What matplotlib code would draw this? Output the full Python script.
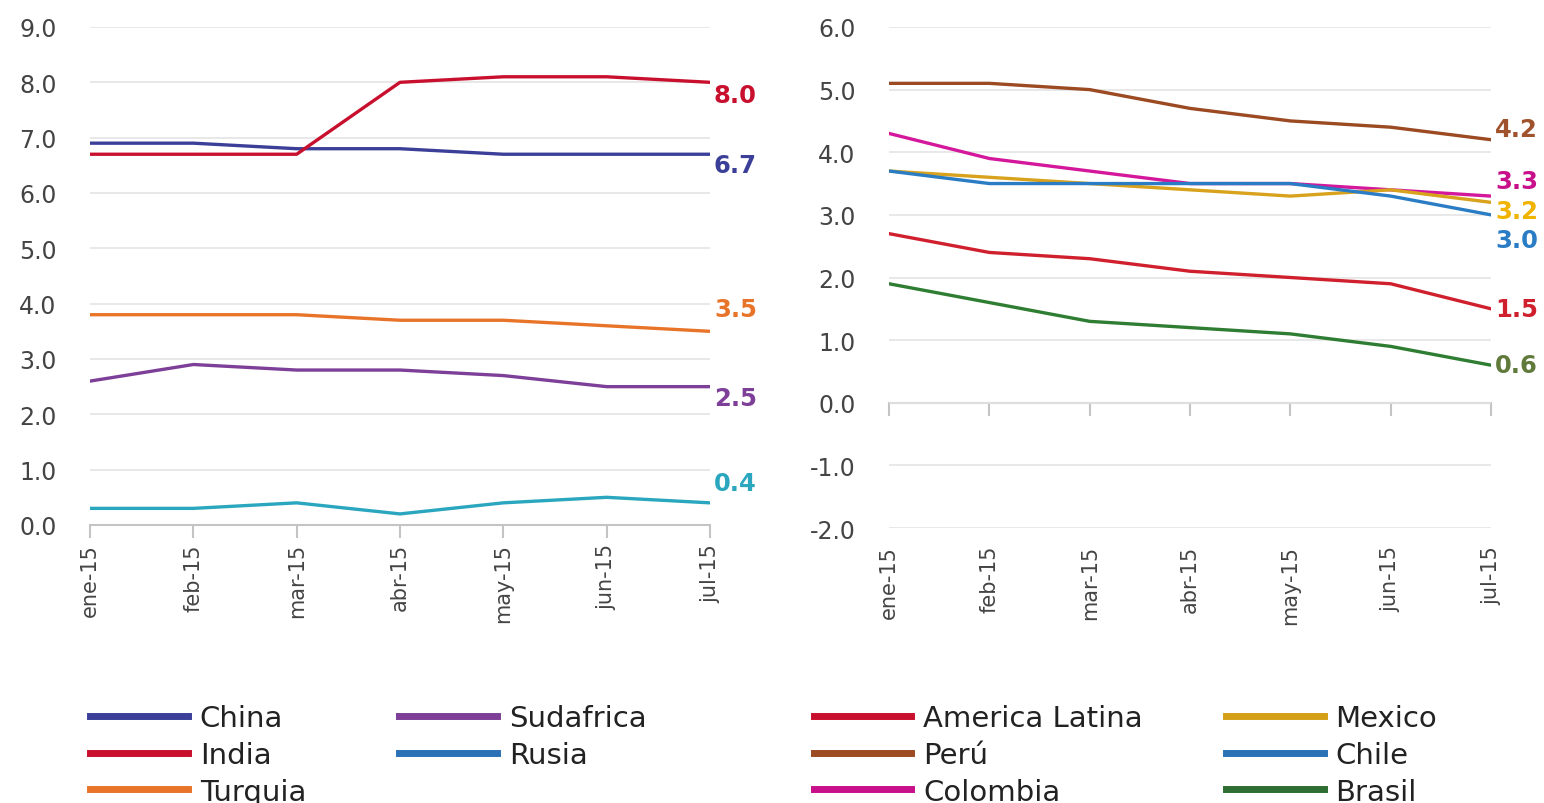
import matplotlib.pyplot as plt
from matplotlib.lines import Line2D

# ---- data ----
months = ['ene-15', 'feb-15', 'mar-15', 'abr-15', 'may-15', 'jun-15', 'jul-15']

china = [6.9, 6.9, 6.8, 6.8, 6.7, 6.7, 6.7]
india = [6.7, 6.7, 6.7, 8.0, 8.1, 8.1, 8.0]
turquia = [3.8, 3.8, 3.8, 3.7, 3.7, 3.6, 3.5]
sudafrica = [2.6, 2.9, 2.8, 2.8, 2.7, 2.5, 2.5]
rusia = [0.3, 0.3, 0.4, 0.2, 0.4, 0.5, 0.4]

america_latina = [2.7, 2.4, 2.3, 2.1, 2.0, 1.9, 1.5]
peru = [5.1, 5.1, 5.0, 4.7, 4.5, 4.4, 4.2]
colombia = [4.3, 3.9, 3.7, 3.5, 3.5, 3.4, 3.3]
mexico = [3.7, 3.6, 3.5, 3.4, 3.3, 3.4, 3.2]
chile = [3.7, 3.5, 3.5, 3.5, 3.5, 3.3, 3.0]
brasil = [1.9, 1.6, 1.3, 1.2, 1.1, 0.9, 0.6]

# (name, values, line colour, legend colour, label colour, label offset px)
left_series = [
    ('China', china, '#3b3f98', '#3b3f98', '#3b3f98', -11),
    ('India', india, '#c8102e', '#c8102e', '#c8102e', -13),
    ('Turquia', turquia, '#e8742a', '#e8742a', '#e8742a', 22),
    ('Sudafrica', sudafrica, '#7d3f98', '#7d3f98', '#7d3f98', -11),
    ('Rusia', rusia, '#2aa6bf', '#2a72b5', '#2aa6bf', 20),
]
right_series = [
    ('America Latina', america_latina, '#d0202e', '#c8102e', '#d0202e', 0),
    ('Perú', peru, '#9b4a22', '#9b4a22', '#a0522d', 11),
    ('Colombia', colombia, '#d4189c', '#c8108a', '#c8108a', 15),
    ('Mexico', mexico, '#d8a21c', '#d4a017', '#f0b400', -9),
    ('Chile', chile, '#2a7cc4', '#2a72b5', '#2a7cc4', -25),
    ('Brasil', brasil, '#2e7d32', '#2e6e32', '#5f7a3a', 0),
]

fig = plt.figure(figsize=(15.44, 8.04), dpi=100)
ax1 = fig.add_axes([0.0583, 0.3458, 0.4015, 0.6194])
ax2 = fig.add_axes([0.5758, 0.3420, 0.3899, 0.6232])

x = list(range(len(months)))


def style_axis(ax, ylo, yhi):
    ax.set_xlim(0, len(months) - 1)
    ax.set_ylim(ylo, yhi)
    ax.set_yticks(range(ylo, yhi + 1))
    ax.set_yticklabels([f'{v:.1f}' for v in range(ylo, yhi + 1)])
    ax.grid(axis='y', color='#e4e4e4', lw=1.2)
    ax.set_axisbelow(True)
    for s in ['top', 'right', 'left']:
        ax.spines[s].set_visible(False)
    ax.tick_params(axis='y', length=0, labelsize=17, labelcolor='#444444', pad=24)
    ax.set_xticks(x)
    ax.set_xticklabels(months, rotation=90)
    ax.tick_params(axis='x', labelsize=15, labelcolor='#444444')


def draw(ax, series):
    for name, vals, col, lcol, tcol, off in series:
        ax.plot(x, vals, color=col, lw=2.4, solid_joinstyle='round')
        ax.annotate(f'{vals[-1]:.1f}', (x[-1], vals[-1]), xytext=(4, off),
                    textcoords='offset pixels', ha='left', va='center',
                    color=tcol, fontsize=17.5, fontweight='bold',
                    annotation_clip=False)


draw(ax1, left_series)
style_axis(ax1, 0, 9)
ax1.spines['bottom'].set_color('#c4c4c4')
ax1.spines['bottom'].set_linewidth(1.5)
ax1.tick_params(axis='x', length=9, width=1.5, color='#c4c4c4', pad=4)

draw(ax2, right_series)
style_axis(ax2, -2, 6)
ax2.spines['bottom'].set_visible(False)
ax2.tick_params(axis='x', length=0, pad=12)
# zero line with tick marks
zero_ax = ax2.secondary_xaxis((0 - (-2)) / 8)
zero_ax.set_xticks(x)
zero_ax.tick_params(axis='x', length=9, width=1.5, color='#c4c4c4', labelbottom=False)
zero_ax.spines['bottom'].set_color('#c4c4c4')
zero_ax.spines['bottom'].set_linewidth(1.5)


def make_legend(series, xpos, colsp):
    handles = [Line2D([], [], color=s[3], lw=5) for s in series]
    labels = [s[0] for s in series]
    fig.legend(handles, labels, loc='upper left', bbox_to_anchor=(xpos, 0.123),
               ncol=2, frameon=False, fontsize=21, handlelength=3.35,
               handletextpad=0.4, labelspacing=0.3, columnspacing=colsp,
               borderpad=0, borderaxespad=0, labelcolor='#222222')


make_legend(left_series, 0.0585, 3.2)
make_legend(right_series, 0.527, 2.85)

fig.savefig('out.png', dpi=100)
